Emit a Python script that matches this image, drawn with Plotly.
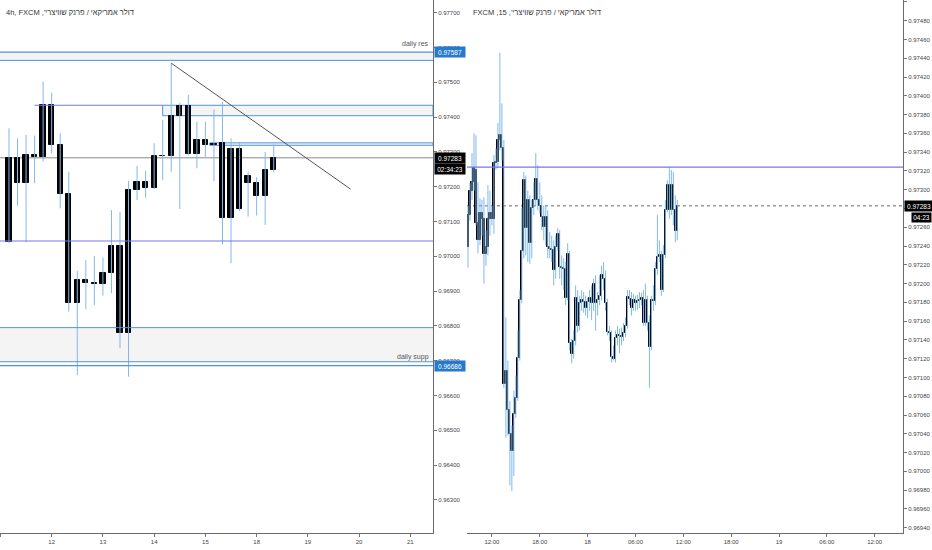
import plotly.graph_objects as go

# ---- 4h candles (left panel) ----
h4_open = [0.97041, 0.97283, 0.97210, 0.97291, 0.97284, 0.97435, 0.97319, 0.97179,
           0.96867, 0.96932, 0.96924, 0.96920, 0.96951, 0.97030, 0.96779, 0.97191,
           0.97195, 0.97195, 0.97289, 0.97288, 0.97404, 0.97432, 0.97294, 0.97334,
           0.97322, 0.97325, 0.97109, 0.97309, 0.97231, 0.97210, 0.97174, 0.97248]
h4_high = [0.97368, 0.97339, 0.97349, 0.97347, 0.97502, 0.97470, 0.97353, 0.97243,
           0.96958, 0.96989, 0.97001, 0.96997, 0.97133, 0.97128, 0.97217, 0.97260,
           0.97246, 0.97325, 0.97392, 0.97555, 0.97441, 0.97464, 0.97387, 0.97387,
           0.97422, 0.97444, 0.97339, 0.97325, 0.97243, 0.97227, 0.97300, 0.97322]
h4_low = [0.97037, 0.97145, 0.97040, 0.97210, 0.97272, 0.97296, 0.97138, 0.96841,
          0.96659, 0.96848, 0.96860, 0.96887, 0.96894, 0.96736, 0.96654, 0.97162,
          0.97168, 0.97193, 0.97219, 0.97243, 0.97136, 0.97290, 0.97253, 0.97286,
          0.97216, 0.97034, 0.96980, 0.97130, 0.97114, 0.97117, 0.97090, 0.97241]
h4_close = [0.97283, 0.97210, 0.97291, 0.97284, 0.97435, 0.97319, 0.97179, 0.96867,
            0.96932, 0.96922, 0.96920, 0.96951, 0.97030, 0.96779, 0.97191, 0.97213,
            0.97214, 0.97289, 0.97287, 0.97404, 0.97432, 0.97294, 0.97334, 0.97320,
            0.97319, 0.97109, 0.97309, 0.97136, 0.97210, 0.97174, 0.97248, 0.97283]
h4_tick_pos = [-1, 5, 11, 17, 23, 29, 35, 41, 47]
h4_tick_labels = ["11", "12", "13", "14", "15", "18", "19", "20", "21"]

# ---- 15m candles (right panel) ----
m15_open = [0.97239, 0.97273, 0.97299, 0.97308, 0.97321, 0.97265, 0.97246, 0.97275,
            0.97269, 0.97232, 0.97239, 0.97269, 0.97275, 0.97269, 0.97328, 0.97329,
            0.97353, 0.97358, 0.97344, 0.97093, 0.97107, 0.97065, 0.97040, 0.97022,
            0.97061, 0.97078, 0.97121, 0.97182, 0.97235, 0.97310, 0.97259, 0.97289,
            0.97243, 0.97281, 0.97289, 0.97311, 0.97289, 0.97283, 0.97271, 0.97260,
            0.97271, 0.97239, 0.97237, 0.97236, 0.97214, 0.97239, 0.97253, 0.97218,
            0.97217, 0.97216, 0.97185, 0.97232, 0.97137, 0.97125, 0.97139, 0.97185,
            0.97155, 0.97179, 0.97182, 0.97180, 0.97174, 0.97180, 0.97185, 0.97179,
            0.97200, 0.97179, 0.97182, 0.97187, 0.97209, 0.97205, 0.97179, 0.97148,
            0.97147, 0.97122, 0.97120, 0.97142, 0.97145, 0.97144, 0.97143, 0.97147,
            0.97155, 0.97186, 0.97184, 0.97174, 0.97182, 0.97179, 0.97181, 0.97182,
            0.97185, 0.97158, 0.97182, 0.97158, 0.97132, 0.97182, 0.97181, 0.97216,
            0.97228, 0.97230, 0.97193, 0.97230, 0.97278, 0.97305, 0.97278, 0.97305,
            0.97278, 0.97256]
m15_high = [0.97283, 0.97307, 0.97339, 0.97360, 0.97358, 0.97308, 0.97291, 0.97289,
            0.97292, 0.97257, 0.97305, 0.97299, 0.97283, 0.97337, 0.97344, 0.97371,
            0.97446, 0.97392, 0.97353, 0.97164, 0.97118, 0.97075, 0.97049, 0.97086,
            0.97102, 0.97150, 0.97193, 0.97281, 0.97319, 0.97315, 0.97299, 0.97294,
            0.97289, 0.97308, 0.97339, 0.97326, 0.97308, 0.97294, 0.97283, 0.97283,
            0.97278, 0.97255, 0.97251, 0.97246, 0.97251, 0.97259, 0.97257, 0.97230,
            0.97227, 0.97223, 0.97243, 0.97235, 0.97141, 0.97150, 0.97198, 0.97193,
            0.97187, 0.97193, 0.97191, 0.97187, 0.97185, 0.97193, 0.97198, 0.97205,
            0.97209, 0.97191, 0.97209, 0.97219, 0.97223, 0.97214, 0.97184, 0.97155,
            0.97150, 0.97134, 0.97150, 0.97155, 0.97152, 0.97153, 0.97158, 0.97164,
            0.97193, 0.97193, 0.97191, 0.97189, 0.97187, 0.97188, 0.97191, 0.97190,
            0.97193, 0.97200, 0.97187, 0.97166, 0.97187, 0.97198, 0.97223, 0.97273,
            0.97246, 0.97235, 0.97241, 0.97289, 0.97310, 0.97324, 0.97321, 0.97319,
            0.97294, 0.97289]
m15_low = [0.97217, 0.97267, 0.97289, 0.97299, 0.97262, 0.97232, 0.97241, 0.97251,
           0.97200, 0.97219, 0.97230, 0.97251, 0.97262, 0.97253, 0.97321, 0.97323,
           0.97342, 0.97331, 0.97089, 0.97036, 0.97038, 0.96985, 0.96979, 0.96995,
           0.97057, 0.97075, 0.97118, 0.97179, 0.97227, 0.97230, 0.97223, 0.97221,
           0.97227, 0.97273, 0.97283, 0.97278, 0.97275, 0.97257, 0.97246, 0.97241,
           0.97227, 0.97227, 0.97223, 0.97198, 0.97205, 0.97235, 0.97205, 0.97198,
           0.97193, 0.97177, 0.97182, 0.97129, 0.97115, 0.97120, 0.97134, 0.97148,
           0.97150, 0.97171, 0.97169, 0.97166, 0.97163, 0.97171, 0.97161, 0.97171,
           0.97150, 0.97166, 0.97177, 0.97182, 0.97193, 0.97171, 0.97145, 0.97139,
           0.97116, 0.97118, 0.97116, 0.97134, 0.97126, 0.97134, 0.97139, 0.97143,
           0.97152, 0.97177, 0.97166, 0.97171, 0.97171, 0.97172, 0.97174, 0.97177,
           0.97155, 0.97155, 0.97150, 0.97089, 0.97129, 0.97171, 0.97177, 0.97209,
           0.97223, 0.97187, 0.97191, 0.97227, 0.97276, 0.97269, 0.97273, 0.97262,
           0.97244, 0.97246]
m15_close = [0.97273, 0.97299, 0.97308, 0.97323, 0.97265, 0.97246, 0.97275, 0.97269,
             0.97232, 0.97239, 0.97269, 0.97275, 0.97269, 0.97328, 0.97329, 0.97353,
             0.97358, 0.97344, 0.97093, 0.97107, 0.97065, 0.97040, 0.97022, 0.97061,
             0.97078, 0.97121, 0.97182, 0.97235, 0.97310, 0.97259, 0.97289, 0.97243,
             0.97281, 0.97289, 0.97311, 0.97289, 0.97283, 0.97271, 0.97260, 0.97271,
             0.97239, 0.97237, 0.97236, 0.97214, 0.97239, 0.97253, 0.97218, 0.97217,
             0.97216, 0.97185, 0.97232, 0.97137, 0.97125, 0.97139, 0.97185, 0.97155,
             0.97179, 0.97182, 0.97180, 0.97174, 0.97180, 0.97185, 0.97179, 0.97200,
             0.97179, 0.97182, 0.97187, 0.97209, 0.97205, 0.97179, 0.97148, 0.97147,
             0.97122, 0.97120, 0.97142, 0.97145, 0.97144, 0.97143, 0.97147, 0.97155,
             0.97186, 0.97184, 0.97174, 0.97182, 0.97179, 0.97181, 0.97182, 0.97185,
             0.97158, 0.97182, 0.97158, 0.97132, 0.97182, 0.97181, 0.97216, 0.97228,
             0.97230, 0.97193, 0.97230, 0.97278, 0.97305, 0.97278, 0.97305, 0.97278,
             0.97256, 0.97283]
m15_tick_pos = [12, 36, 60, 84, 108, 132, 156, 180, 204]
m15_tick_labels = ["12:00", "18:00", "18", "06:00", "12:00", "18:00", "19", "06:00", "12:00"]

# ---- drawn levels ----
daily_res = [0.97563, 0.97587]
daily_supp = [0.96697, 0.96795]
supp_line = 0.96686
zone_upper = [0.97404, 0.97434]
zone_thin = [0.97319, 0.97326]
level_low = 0.97044
level_15m = 0.97324
last_price = 0.97283
trend_x = [19, 40.0]
trend_y = [0.97555, 0.97193]
level_upper_start = 3.0
zone_upper_start = 18.0
zone_thin_start = 23.5

left_title = "4h, FXCM ,'דולר אמריקאי / פרנק שוויצרי"
right_title = "FXCM ,15 ,'דולר אמריקאי / פרנק שוויצרי"

WICK = "#82b8ec"
BODY = "#000000"
BLUE = "#4f93de"
VIOLET = "#7676ec"
ZONE = "#f4f4f4"
FONT = "Liberation Sans"

h4_range = [-1.05, 49.65]
m15_range = [-0.5, 218.2]


def add_candles(fig, o, h, l, c, xa, ya, width, edge):
    idx = list(range(len(o)))
    wx, wy = [], []
    for i in idx:
        wx += [i, i, None]
        wy += [l[i], h[i], None]
    fig.add_trace(go.Scatter(x=wx, y=wy, mode="lines", line=dict(color=WICK, width=1),
                             xaxis=xa, yaxis=ya, hoverinfo="skip", showlegend=False))
    base = [min(a, b) for a, b in zip(o, c)]
    size = [abs(a - b) for a, b in zip(o, c)]
    fig.add_trace(go.Bar(x=idx, y=size, base=base, width=width,
                         marker=dict(color=BODY, line=dict(color=BODY, width=edge)),
                         xaxis=xa, yaxis=ya, showlegend=False))


fig = go.Figure()
add_candles(fig, h4_open, h4_high, h4_low, h4_close, "x", "y", 0.62, 1)
add_candles(fig, m15_open, m15_high, m15_low, m15_close, "x2", "y2", 0.6, 1)

shapes = [
    # daily resistance zone
    dict(type="rect", xref="x domain", yref="y", x0=0, x1=1, y0=daily_res[0], y1=daily_res[1],
         fillcolor=ZONE, line=dict(width=0), layer="below"),
    dict(type="line", xref="x domain", yref="y", x0=0, x1=1, y0=daily_res[0], y1=daily_res[0],
         line=dict(color=BLUE, width=1)),
    dict(type="line", xref="x domain", yref="y", x0=0, x1=1, y0=daily_res[1], y1=daily_res[1],
         line=dict(color=BLUE, width=1.2)),
    # upper level and zone
    dict(type="line", xref="x", yref="y", x0=level_upper_start, x1=zone_upper_start,
         y0=zone_upper[1], y1=zone_upper[1], line=dict(color=VIOLET, width=1.2)),
    dict(type="rect", xref="x", yref="y", x0=zone_upper_start, x1=h4_range[1],
         y0=zone_upper[0], y1=zone_upper[1], fillcolor=ZONE, line=dict(color=BLUE, width=1),
         layer="below"),
    dict(type="rect", xref="x", yref="y", x0=zone_thin_start, x1=h4_range[1],
         y0=zone_thin[0], y1=zone_thin[1], fillcolor=ZONE, line=dict(color=BLUE, width=1),
         layer="below"),
    # lower level
    dict(type="line", xref="x domain", yref="y", x0=0, x1=1, y0=level_low, y1=level_low,
         line=dict(color=VIOLET, width=1.2)),
    # daily support zone
    dict(type="rect", xref="x domain", yref="y", x0=0, x1=1, y0=daily_supp[0], y1=daily_supp[1],
         fillcolor=ZONE, line=dict(width=0), layer="below"),
    dict(type="line", xref="x domain", yref="y", x0=0, x1=1, y0=daily_supp[0], y1=daily_supp[0],
         line=dict(color=BLUE, width=1)),
    dict(type="line", xref="x domain", yref="y", x0=0, x1=1, y0=daily_supp[1], y1=daily_supp[1],
         line=dict(color=BLUE, width=1)),
    dict(type="line", xref="x domain", yref="y", x0=0, x1=1, y0=supp_line, y1=supp_line,
         line=dict(color=BLUE, width=1.2)),
    # last price lines
    dict(type="line", xref="x domain", yref="y", x0=0, x1=1, y0=last_price, y1=last_price,
         line=dict(color="#8a8a8a", width=1), layer="below"),
    dict(type="line", xref="x2 domain", yref="y2", x0=0, x1=1, y0=last_price, y1=last_price,
         line=dict(color="#9a9a9a", width=1.5, dash="dot"), layer="below"),
    # 15m level
    dict(type="line", xref="x2 domain", yref="y2", x0=0, x1=1, y0=level_15m, y1=level_15m,
         line=dict(color=VIOLET, width=1.2)),
    # trend line
    dict(type="line", xref="x", yref="y", x0=trend_x[0], x1=trend_x[1],
         y0=trend_y[0], y1=trend_y[1], line=dict(color="#555555", width=1)),
]

small = dict(family=FONT, size=6, color="#444444")


def price_box(text, xpos, yref, yval, bg, shift=0, w=27, pad=1.5):
    return dict(text=text, xref="paper", x=xpos, xanchor="left", yref=yref, y=yval,
                yanchor="middle", yshift=shift, showarrow=False, bgcolor=bg, width=w,
                borderpad=pad, font=dict(family=FONT, size=6.5, color="white"))


annotations = [
    dict(text=left_title, xref="paper", x=4 / 932, xanchor="left", yref="paper",
         y=1 - 12 / 550, yanchor="middle", showarrow=False,
         font=dict(family=FONT, size=7.5, color="#333333")),
    dict(text=right_title, xref="paper", x=471 / 932, xanchor="left", yref="paper",
         y=1 - 12 / 550, yanchor="middle", showarrow=False,
         font=dict(family=FONT, size=7.5, color="#333333")),
    dict(text="daily res", xref="paper", x=431 / 932, xanchor="right", yref="y",
         y=daily_res[1], yanchor="bottom", yshift=2, showarrow=False,
         font=dict(family=FONT, size=7, color="#555555")),
    dict(text="daily supp", xref="paper", x=431 / 932, xanchor="right", yref="y",
         y=daily_supp[0], yanchor="bottom", yshift=-1, showarrow=False,
         font=dict(family=FONT, size=7, color="#555555")),
    price_box("0.97587", 433.5 / 932, "y", daily_res[1], "#2679cc"),
    price_box("0.96686", 433.5 / 932, "y", supp_line, "#2679cc"),
    price_box("0.97283", 433.5 / 932, "y", last_price, "#000000"),
    price_box("02:34:23", 433.5 / 932, "y", last_price, "#000000", shift=-11.5),
    price_box("0.97283", 903.5 / 932, "y2", last_price, "#000000", w=25),
    price_box("04:23", 910.5 / 932, "y2", last_price, "#000000", shift=-12, w=17, pad=1),
]

axis_common = dict(showgrid=False, zeroline=False, showline=True, linecolor="#6a6a6a",
                   linewidth=1, ticks="outside", ticklen=3, tickcolor="#777777",
                   tickfont=small, fixedrange=True)

fig.update_layout(
    width=932, height=550,
    margin=dict(l=0, r=0, t=0, b=0),
    paper_bgcolor="white", plot_bgcolor="white",
    showlegend=False, barmode="overlay", bargap=0,
    xaxis=dict(domain=[0, 433 / 932], range=h4_range, tickmode="array",
               tickvals=h4_tick_pos, ticktext=h4_tick_labels, anchor="y", **axis_common),
    yaxis=dict(domain=[17 / 550, 1], range=[0.962049, 0.977365], side="right", anchor="x",
               tick0=0.963, dtick=0.001, tickformat=".5f", **axis_common),
    xaxis2=dict(domain=[467 / 932, 903 / 932], range=m15_range, tickmode="array",
                tickvals=m15_tick_pos, ticktext=m15_tick_labels, anchor="y2", **axis_common),
    yaxis2=dict(domain=[17 / 550, 1], range=[0.969343, 0.975021], side="right", anchor="x2",
                tick0=0.9694, dtick=0.0002, tickformat=".5f", **axis_common),
    shapes=shapes,
    annotations=annotations,
)

# page body has a default 8px margin; drop it so the chart sits at the window corner
fig.write_html("out.html", config={"displayModeBar": False},
               post_script="document.body.style.margin='0';")
